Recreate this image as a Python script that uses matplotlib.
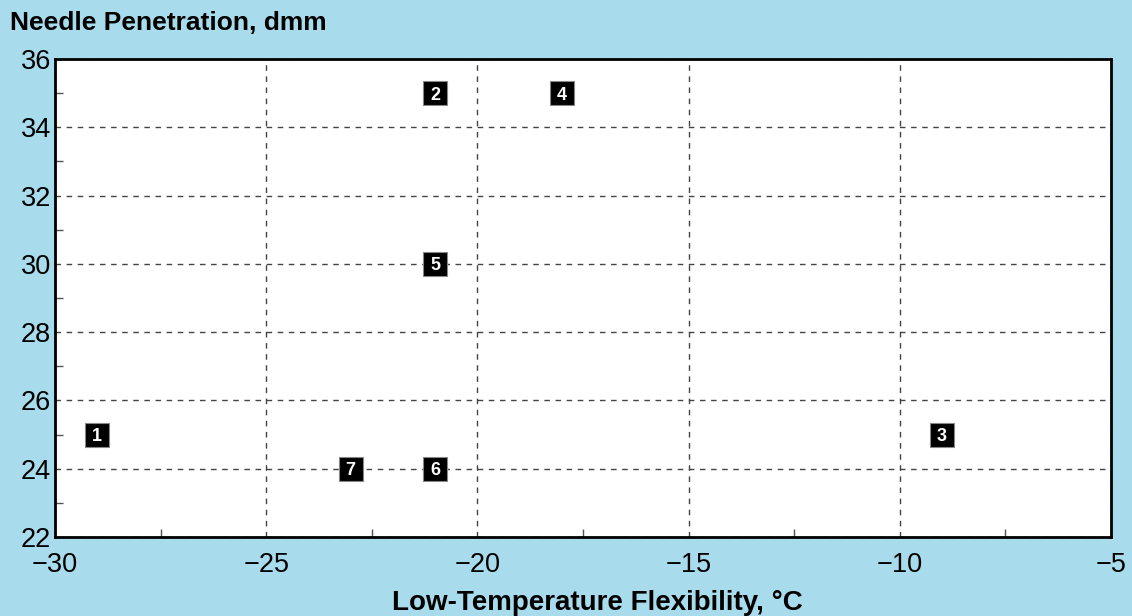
import matplotlib.pyplot as plt
from matplotlib.ticker import MultipleLocator

# sample positions
labels = ["1", "2", "3", "4", "5", "6", "7"]
flexibility = [-29, -21, -9, -18, -21, -21, -23]   # Low-temperature flexibility, degC
penetration = [25, 35, 25, 35, 30, 24, 24]         # Needle penetration, dmm

bg = "#a8dbeb"
plt.rcParams["font.family"] = ["Liberation Sans", "DejaVu Sans"]

fig = plt.figure(figsize=(11.32, 6.16), dpi=100, facecolor=bg)
ax = fig.add_axes([55 / 1132, 1 - 537 / 616, (1111 - 55) / 1132, (537 - 59) / 616])
ax.set_facecolor("white")

ax.set_xlim(-30, -5)
ax.set_ylim(22, 36)
ax.xaxis.set_major_locator(MultipleLocator(5))
ax.xaxis.set_minor_locator(MultipleLocator(2.5))
ax.yaxis.set_major_locator(MultipleLocator(2))
ax.yaxis.set_minor_locator(MultipleLocator(1))
ax.tick_params(which="both", direction="in", labelsize=19.5, color="#555555")
ax.tick_params(which="major", length=0)
ax.tick_params(axis="x", which="major", pad=11)
ax.tick_params(axis="y", which="major", pad=3)
ax.tick_params(which="minor", length=6, width=1)

ax.grid(True, which="major", linestyle=(0, (4, 4)), color="#444444", linewidth=1)
for s in ax.spines.values():
    s.set_linewidth(2)
    s.set_color("black")

ax.scatter(flexibility, penetration, marker="s", s=275, color="black",
           edgecolors="#888888", linewidths=0.8, zorder=4)
for lab, x, y in zip(labels, flexibility, penetration):
    ax.text(x, y, lab, ha="center", va="center_baseline", color="white", fontsize=13,
            fontweight="bold", zorder=5)

fig.text(10 / 1132, 1 - 23 / 616, "Needle Penetration, dmm", fontsize=19, fontweight="bold",
         ha="left", va="center")
fig.text(597 / 1132, 1 - 603 / 616, "Low-Temperature Flexibility, \u00b0C", fontsize=20,
         fontweight="bold", ha="center", va="center")

fig.savefig("out.png", dpi=100, facecolor=bg)
